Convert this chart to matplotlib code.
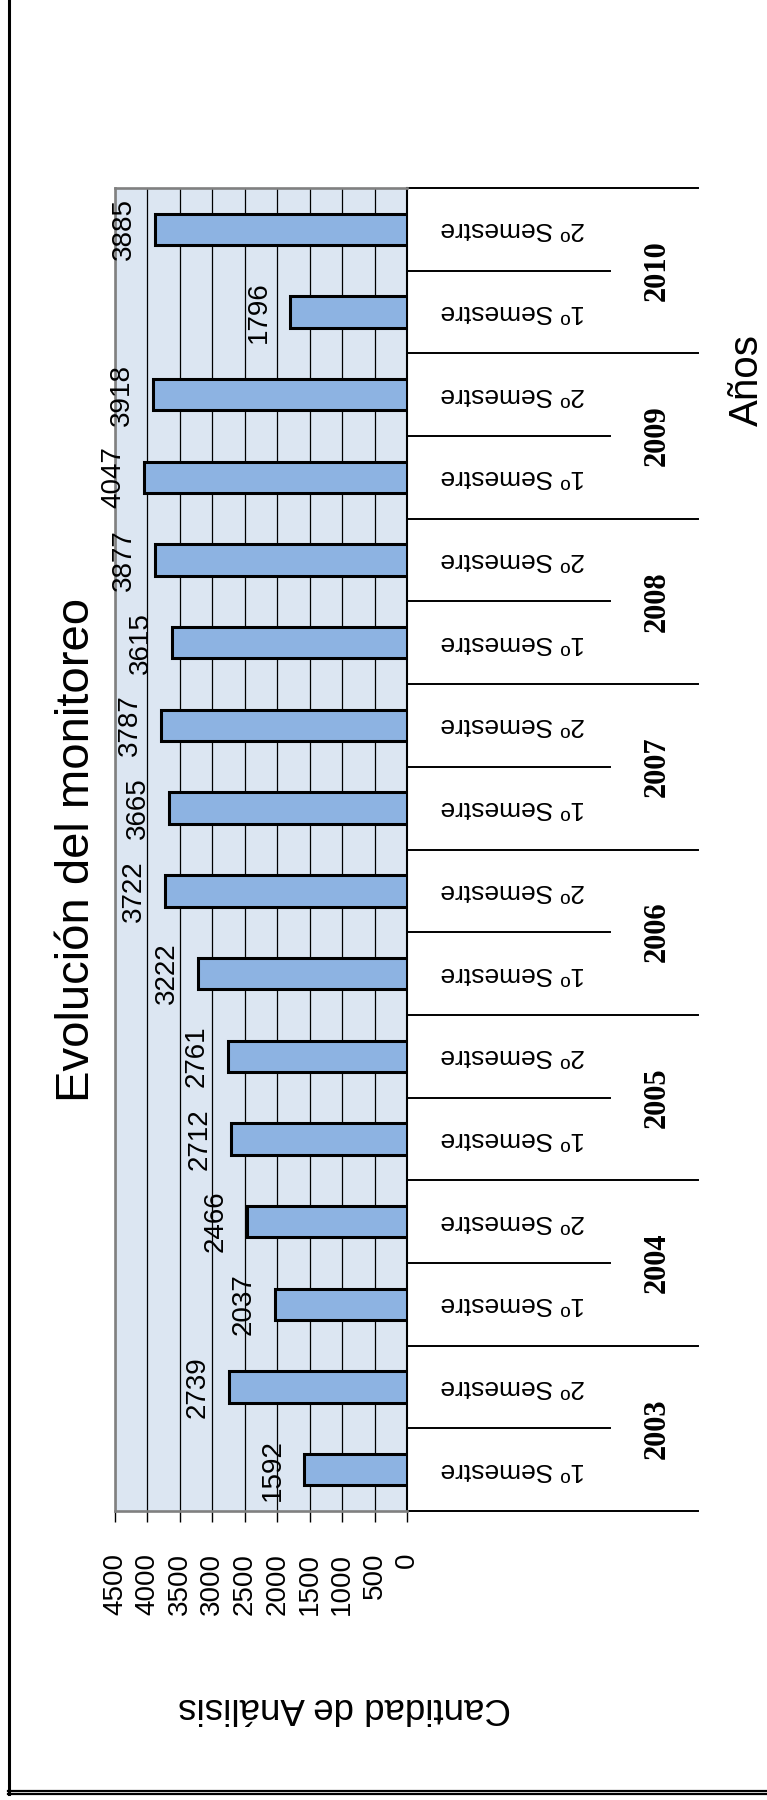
import numpy as np
import matplotlib.pyplot as plt
from matplotlib.lines import Line2D

# datos del grafico (rotado 90 grados como en la imagen original)
anios = ['2003', '2004', '2005', '2006', '2007', '2008', '2009', '2010']
semestres = ['1º Semestre', '2º Semestre']
valores = [1592, 2739, 2037, 2466, 2712, 2761, 3222, 3722,
           3665, 3787, 3615, 3877, 4047, 3918, 1796, 3885]
ticks = [0, 500, 1000, 1500, 2000, 2500, 3000, 3500, 4000, 4500]

W, H = 767, 1800
fig = plt.figure(figsize=(W / 100, H / 100), dpi=100)
fig.patch.set_facecolor('white')

sans = ['Liberation Sans', 'DejaVu Sans']
serif = ['Liberation Serif', 'DejaVu Serif']

# area del grafico en pixeles
x0, x1 = 115, 407
y0, y1 = 188, 1511
ax = fig.add_axes([x0 / W, 1 - y1 / H, (x1 - x0) / W, (y1 - y0) / H])

pos = np.arange(len(valores))
ax.barh(pos, valores, height=0.38, color='#8DB3E2', edgecolor='black',
        linewidth=2.2, zorder=3)
ax.set_xlim(4500, 0)
ax.set_ylim(-0.5, len(valores) - 0.5)
ax.set_facecolor('#DCE6F2')
ax.set_axisbelow(True)

ax.set_xticks(ticks)
ax.set_xticklabels([str(t) for t in ticks], rotation=90, family=sans)
ax.grid(axis='x', color='black', lw=0.9)
ax.tick_params(axis='x', length=8, width=1, color='black', pad=22, labelsize=20)
ax.tick_params(axis='y', left=False, right=False, labelleft=False)

for s in ['left', 'top', 'bottom']:
    ax.spines[s].set_color('#808080')
    ax.spines[s].set_linewidth(1.9)
ax.spines['right'].set_color('black')
ax.spines['right'].set_linewidth(1.5)

# etiquetas de valores
for i, v in enumerate(valores):
    ax.annotate(str(v), xy=(v, i), xytext=(-22.5, 0), textcoords='offset points',
                rotation=90, ha='center', va='center', fontsize=20, family=sans)

# eje de categorias de dos niveles (a la derecha)
trans = ax.get_yaxis_transform()
for b in range(len(valores) + 1):
    fin = 1.997 if b % 2 == 0 else 1.695
    ax.plot([1, fin], [b - 0.5, b - 0.5], transform=trans, color='black',
            lw=1.4, clip_on=False)
for i in pos:
    ax.text(1.363, i, semestres[i % 2], transform=trans, rotation=180,
            ha='center', va='center', fontsize=19, family=sans)
for k, a in enumerate(anios):
    ax.text(1.856, 2 * k + 0.5, a, transform=trans, rotation=90,
            ha='center', va='center', fontsize=22, fontweight='bold', family=serif)

# titulos
fig.text(77 / W, 1 - 850 / H, 'Evolución del monitoreo', rotation=90,
         fontsize=34, ha='center', va='center', family=sans)
fig.text(345 / W, 1 - 1708 / H, 'Cantidad de Análisis', rotation=180,
         fontsize=26.5, ha='center', va='center', family=sans)
fig.text(747 / W, 1 - 380 / H, 'Años', rotation=90,
         fontsize=29, ha='center', va='center', family=sans)

# marco
fig.add_artist(Line2D([8.5 / W, 8.5 / W], [1 - 1794 / H, 1], lw=2.2, color='black'))
fig.add_artist(Line2D([8 / W, 1], [1 - 1790.5 / H, 1 - 1790.5 / H], lw=1.6, color='black'))
fig.add_artist(Line2D([8 / W, 1], [1 - 1794 / H, 1 - 1794 / H], lw=1.6, color='black'))

fig.savefig('out.png', dpi=100)
